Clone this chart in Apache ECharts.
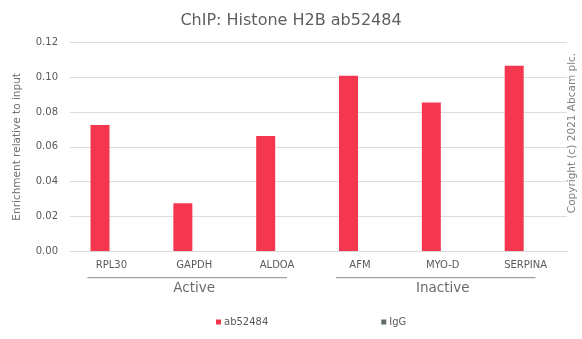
<!DOCTYPE html>
<html>
<head>
<meta charset="utf-8">
<script src="https://cdn.jsdelivr.net/npm/echarts@6/dist/echarts.min.js"></script>
<style>
html,body{margin:0;padding:0;background:#fff;}
#chart{width:582px;height:339px;}
</style>
</head>
<body>
<div id="chart"></div>
<script>
var categories = ['RPL30', 'GAPDH', 'ALDOA', 'AFM', 'MYO-D', 'SERPINA'];
var groups = ['Active', 'Inactive'];
var groupMembers = [['RPL30', 'ALDOA'], ['AFM', 'SERPINA']];
var ab52484 = [0.0726, 0.0275, 0.0663, 0.1010, 0.0855, 0.1067];
var igg = [0, 0, 0, 0, 0, 0];
var yTicks = [0, 0.02, 0.04, 0.06, 0.08, 0.10, 0.12];

var FONT = 'DejaVu Sans';
var chart = echarts.init(document.getElementById('chart'), null, {renderer: 'canvas'});
var option = {
  backgroundColor: '#ffffff',
  animation: false,
  textStyle: {fontFamily: FONT},
  title: {
    text: 'ChIP: Histone H2B ab52484',
    left: 'center',
    top: 8,
    textStyle: {fontFamily: FONT, fontSize: 16, fontWeight: 'normal', color: '#5f5f5f'}
  },
  legend: {
    data: ['ab52484', 'IgG'],
    left: 211,
    top: 312,
    icon: 'rect',
    itemWidth: 5,
    itemHeight: 5,
    itemGap: 113,
    textStyle: {fontFamily: FONT, fontSize: 10, color: '#595959', padding: [0, 0, 0, -2]}
  },
  grid: {left: 70, right: 15, top: 42.7, bottom: 88, containLabel: false},
  xAxis: [{
    type: 'category',
    data: categories,
    axisTick: {show: false},
    axisLine: {show: true, lineStyle: {color: '#d9d9d9', width: 1}},
    axisLabel: {fontFamily: FONT, fontSize: 10, color: '#595959', margin: 9, interval: 0}
  }, {
    type: 'category',
    data: groups,
    position: 'bottom',
    offset: 22,
    axisTick: {show: false},
    axisLine: {show: false},
    axisLabel: {fontFamily: FONT, fontSize: 13.5, color: '#6a6a6a', margin: 8, interval: 0}
  }],
  yAxis: {
    type: 'value',
    min: yTicks[0],
    max: yTicks[yTicks.length - 1],
    interval: 0.02,
    name: 'Enrichment relative to input',
    nameLocation: 'middle',
    nameGap: 47,
    nameTextStyle: {fontFamily: FONT, fontSize: 10.5, color: '#6f6f6f'},
    axisLine: {show: false},
    axisTick: {show: false},
    splitLine: {lineStyle: {color: '#dcdcdc', width: 1}},
    axisLabel: {fontFamily: FONT, fontSize: 10, color: '#595959', margin: 12,
      formatter: function (v) { return v.toFixed(2); }}
  },
  series: [{
    name: 'ab52484',
    type: 'bar',
    xAxisIndex: 0,
    data: ab52484,
    barWidth: 19,
    barGap: '20%',
    itemStyle: {color: '#f4364f'}
  }, {
    name: 'IgG',
    type: 'bar',
    xAxisIndex: 0,
    data: igg,
    barWidth: 19,
    itemStyle: {color: '#5f6b69'}
  }]
};
chart.setOption(option);

// group underline positions derived from the category axis scale
var band = chart.convertToPixel({xAxisIndex: 0}, categories[1]) - chart.convertToPixel({xAxisIndex: 0}, categories[0]);
var lineY = chart.convertToPixel({yAxisIndex: 0}, 0) + 26.7;
var graphics = [];
groupMembers.forEach(function (g) {
  var x1 = chart.convertToPixel({xAxisIndex: 0}, g[0]) - 0.29 * band;
  var x2 = chart.convertToPixel({xAxisIndex: 0}, g[1]) + 0.12 * band;
  graphics.push({type: 'line', shape: {x1: x1, y1: lineY, x2: x2, y2: lineY},
    style: {stroke: '#8c8c8c', lineWidth: 1}, silent: true});
});
graphics.push({
  type: 'text',
  x: 572, y: 133,
  rotation: Math.PI / 2,
  style: {text: 'Copyright (c) 2021 Abcam plc.', fontFamily: FONT, fontSize: 10.5,
    fill: '#7f7f7f', textAlign: 'center', textVerticalAlign: 'middle'},
  silent: true
});
chart.setOption({graphic: graphics});
</script>
</body>
</html>
